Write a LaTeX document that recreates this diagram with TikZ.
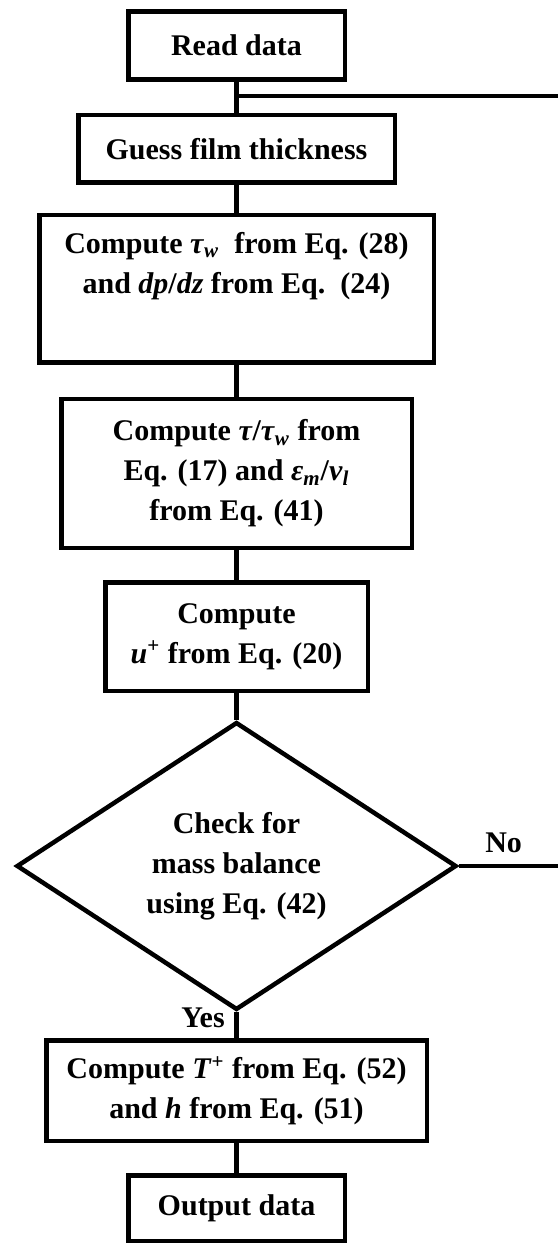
\documentclass[tikz,border=0pt]{standalone}
\usepackage{fontspec}
\setmainfont{Liberation Serif}
\usetikzlibrary{shapes.geometric}

\begin{document}
\begin{tikzpicture}[x=0.5pt, y=-0.5pt, line width=2.25pt,
        caja/.style={draw, rectangle, align=center, inner sep=0pt,
            font=\fontsize{15}{20}\selectfont\bfseries},
        rombo/.style={draw, diamond, align=center, inner sep=0pt,
            font=\fontsize{15}{20}\selectfont\bfseries},
        etiqueta/.style={font=\fontsize{15}{20}\selectfont\bfseries, inner sep=0pt}]
        \useasboundingbox (0,0) rectangle (558,1245);

        % Cajas del proceso
        \node[caja, minimum width=108.25pt, minimum height=34pt] (read) at (236.5,45.5) {Read data};
        \node[caja, minimum width=158.25pt, minimum height=33.75pt] (guess) at (236.5,149) {Guess film thickness};
        \node[caja, minimum width=197.25pt, minimum height=73.75pt] (tauw) at (236.5,289)
            {Compute \textit{τ}\textsubscript{\textit{w}}\ \ from Eq. (28)\\
             and \textit{dp}/\textit{dz} from Eq.\ \ (24)\\ \strut};
        \node[caja, minimum width=175.25pt, minimum height=74.25pt] (taus) at (236.5,473.5)
            {Compute \textit{τ}/\textit{τ}\textsubscript{\textit{w}} from\\
             Eq. (17) and \textit{ε}\textsubscript{\textit{m}}/\textit{ν}\textsubscript{\textit{l}}\\
             from Eq. (41)};
        \node[caja, minimum width=131.25pt, minimum height=54.25pt] (uplus) at (236.5,636.5)
            {Compute\\ \textit{u}\textsuperscript{+} from Eq. (20)};

        % Rombo de decision
        \node[rombo, minimum width=220pt, minimum height=139pt] (check) at (236.5,866)
            {Check for\\ mass balance\\ using Eq. (42)};

        \node[caja, minimum width=190.25pt, minimum height=50.25pt] (tplus) at (236.5,1090.5)
            {Compute \textit{T}\textsuperscript{+} from Eq. (52)\\
             and \textit{h} from Eq. (51)};
        \node[caja, minimum width=108.25pt, minimum height=32.75pt] (output) at (236.5,1208) {Output data};

        % Lineas
        \draw (read) -- (guess);
        \draw (guess) -- (tauw);
        \draw (tauw) -- (taus);
        \draw (taus) -- (uplus);
        \draw (uplus) -- (check);
        \draw (check) -- (tplus);
        \draw (tplus) -- (output);

        % Retorno (No)
        \coordinate (junta) at (234.5,96);
        \coordinate (retorno) at (558,96);
        \coordinate (salida) at (558,866);
        \draw (junta) -- (retorno);
        \draw (check.east) -- (salida);

        \node[etiqueta, anchor=west] (no) at (483,843) {No};
        \node[etiqueta] (yes) at (203,1018) {Yes};
    \end{tikzpicture}
\end{document}
